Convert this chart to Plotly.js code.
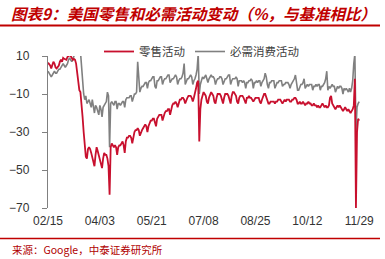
<!DOCTYPE html>
<html>
<head>
<meta charset="utf-8">
<script src="https://cdn.plot.ly/plotly-3.0.1.min.js"></script>
<style>
html,body{margin:0;padding:0;background:#fff;}
#chart{width:385px;height:259px;}
</style>
</head>
<body>
<div id="chart"></div>
<script>
// ---- data ----
var startDate = '2020-02-15';
var seriesNames = ['零售活动', '必需消费活动'];
var retail = [
  6.5, 6, 5, 3.5, 6, 7, 6,
  4, 3.5, 4, 5, 7, 8, 7,
  9, 8.5, 8, 8, 9.5, 10, 10.5,
  10, 9, 8, 8.5, 8, 6, 1,
  -5, -8, -9, -14, -22, -30, -37,
  -43, -44, -39, -38, -39, -41, -43,
  -46, -48, -42, -38, -40, -42, -44,
  -47, -49, -44, -41, -42, -42, -44,
  -48, -63, -38, -36, -37, -38, -37,
  -38, -42, -38, -37, -37, -36, -35,
  -37, -41, -35, -33, -33, -32, -32,
  -33, -36, -32, -30, -29, -29, -28,
  -29, -32, -30, -29, -28, -27, -26,
  -27, -30, -27, -25, -24, -24, -23,
  -23, -26, -27, -23, -22, -21, -21,
  -21, -24, -21, -20, -19, -19, -18,
  -18, -21, -18, -16, -15, -15, -14,
  -15, -17, -15, -13, -13, -12, -12,
  -13, -15, -13, -12, -11, -11, -11,
  -12, -14, -12, -10, -7, -4, -3,
  -35, -18, -13, -10, -9, -10, -11,
  -14, -15, -12, -10, -9, -10, -11,
  -14, -15, -12, -10, -10, -10, -11,
  -14, -15, -12, -10, -10, -10, -11,
  -13, -15, -11, -9, -9, -10, -11,
  -14, -15, -12, -11, -11, -11, -12,
  -14, -15, -12, -12, -11, -12, -12,
  -13, -14, -13, -12, -12, -12, -12,
  -14, -15, -13, -11, -10, -10, -12,
  -14, -15, -15, -14, -14, -14, -14,
  -15, -14, -14, -13, -13, -13, -14,
  -15, -14, -13, -14, -13, -13, -13,
  -14, -14, -13, -13, -12, -12, -13,
  -15, -15, -14, -15, -15, -14, -15,
  -16, -15, -15, -14, -15, -15, -16,
  -16, -15, -16, -16, -17, -16, -17,
  -17, -16, -15, -16, -17, -16, -17,
  -17, -16, -12, -11, -15, -16, -17,
  -18, -17, -16, -17, -16, -17, -18,
  -19, -18, -17, -18, -19, -18, -19,
  -20, -19, -18, -16, -2, -70, -30,
  -23, -24
];
var grocery = [
  2, 1, 0, -1, 0, 1, 2,
  1, 1, 2, 3, 3, 4, 5,
  6, 5, 4, 5, 6, 8, 9,
  8, 7, 8, 10, 12, 17, 24,
  22, 20, 12, 2, -6, -10, -13,
  -11, -15, -14, -13, -15, -17, -13,
  -16, -20, -16, -17, -19, -21, -16,
  -18, -22, -17, -16, -15, -14, -9,
  -11, -38, -15, -14, -15, -16, -14,
  -14, -18, -15, -15, -16, -15, -14,
  -14, -17, -13, -12, -12, -12, -11,
  -11, -14, -11, -10, -10, -9, 7,
  -4, -9, -7, -6, -6, -5, -4,
  -4, -7, -4, -3, -3, -2, -1,
  -1, -6, -7, -3, -3, -2, -1,
  -1, -5, -3, -2, -2, -1, 0,
  0, -4, -3, -2, -2, -1, 0,
  -1, -5, -3, -2, -2, -1, 1,
  6, -5, -3, -2, -2, -1, 0,
  -1, -5, -3, -2, 0, 3, 11,
  -10, -5, -3, -1, -2, -1, 0,
  -2, -4, -2, -1, 0, -1, -1,
  -2, -5, -3, -2, -2, -1, -1,
  -2, -5, -3, -2, -2, -1, 0,
  0, -5, -3, -2, -2, -2, -1,
  -2, -6, -3, -3, -3, -4, -3,
  -4, -7, -4, -4, -3, -3, -2,
  -3, -7, -4, -4, -3, -4, -3,
  -3, -6, -4, -3, -2, 1, -1,
  -5, -7, -4, -4, -3, -3, -3,
  -7, -5, -4, -4, -3, -3, -3,
  -6, -5, -5, -4, -4, -4, -5,
  -7, -5, -4, -3, -2, 0, -3,
  -8, -8, -6, -5, -5, -4, -2,
  -7, -6, -5, -6, -5, -5, -5,
  -8, -6, -6, -5, -6, -5, -5,
  -8, -6, -6, -5, -4, -2, 2,
  -8, -6, -7, -6, -5, -6, -6,
  -9, -7, -6, -7, -6, -6, -7,
  -10, -7, -8, -7, -8, -9, -7,
  -9, -7, -3, 6, 11, -29, -17,
  -15, -14
];
var tickDates = ['2020-02-15', '2020-04-03', '2020-05-21', '2020-07-08', '2020-08-25', '2020-10-12', '2020-11-29'];
var tickLabels = ['02/15', '04/03', '05/21', '07/08', '08/25', '10/12', '11/29'];
var yTicks = [-70, -50, -30, -10, 10];

// build the daily date axis
function buildDates(start, n) {
  var out = [];
  var t0 = Date.parse(start + 'T00:00:00Z');
  for (var i = 0; i < n; i++) {
    var d = new Date(t0 + i * 86400000);
    out.push(d.toISOString().slice(0, 10));
  }
  return out;
}
var dates = buildDates(startDate, retail.length);

var RED = '#C8102E';
var GRAY = '#808080';
var TITLE_RED = '#C00000';
var xRange = ['2020-02-15', '2020-11-29 18:00'];

// plot area px: left 48, right 360, top 56, bottom 208
var L = 48, R = 360, T = 56, B = 208;
function px2x(p) { return (p - L) / (R - L); }
function px2y(p) { return (B - p) / (B - T); }

var traces = [
  { x: dates, y: grocery, name: seriesNames[1], type: 'scatter', mode: 'lines',
    line: { color: GRAY, width: 1.6 } },
  { x: dates, y: retail, name: seriesNames[0], type: 'scatter', mode: 'lines',
    line: { color: RED, width: 1.8 } }
];

var layout = {
  width: 385, height: 259,
  margin: { l: L, r: 385 - R, t: T, b: 259 - B, pad: 0 },
  paper_bgcolor: '#ffffff', plot_bgcolor: '#ffffff',
  showlegend: true,
  legend: {
    orientation: 'h', traceorder: 'reversed',
    x: px2x(99), xanchor: 'left', y: px2y(37), yanchor: 'top',
    font: { family: 'Noto Sans CJK SC', size: 11.5, color: '#404040' },
    bgcolor: 'rgba(0,0,0,0)', itemclick: false, itemdoubleclick: false
  },
  title: {
    text: '图表9：美国零售和必需活动变动（%，与基准相比）',
    font: { family: 'Noto Sans CJK SC', size: 15.5, color: TITLE_RED, weight: 'bold', style: 'italic' },
    xref: 'container', yref: 'container', x: 11 / 385, xanchor: 'left', y: 1 - 15 / 259, yanchor: 'middle'
  },
  xaxis: {
    type: 'date', range: xRange,
    tickmode: 'array', tickvals: tickDates, ticktext: tickLabels,
    showline: false, ticks: '', showgrid: false, zeroline: false,
    tickfont: { family: 'Liberation Sans, Arial', size: 12, color: '#333333' },
    ticklabelstandoff: 4, fixedrange: true
  },
  xaxis2: {
    type: 'date', range: xRange, overlaying: 'x', anchor: 'free', position: 0.875,
    tickmode: 'array', tickvals: tickDates,
    showline: true, linecolor: GRAY, linewidth: 1.5,
    ticks: 'inside', ticklen: 3, tickcolor: GRAY, tickwidth: 1,
    showticklabels: false, showgrid: false, zeroline: false, fixedrange: true
  },
  yaxis: {
    range: [-70, 10], tickmode: 'array', tickvals: yTicks,
    showline: true, linecolor: GRAY, linewidth: 1.2,
    ticks: 'outside', ticklen: 5, tickcolor: GRAY, tickwidth: 1,
    showgrid: false, zeroline: false,
    tickfont: { family: 'Liberation Sans, Arial', size: 12, color: '#333333' },
    ticklabelstandoff: 10, fixedrange: true
  },
  shapes: [
    { type: 'line', xref: 'paper', yref: 'paper', x0: px2x(0), x1: px2x(380), y0: px2y(25.5), y1: px2y(25.5),
      line: { color: TITLE_RED, width: 2 } },
    { type: 'line', xref: 'paper', yref: 'paper', x0: px2x(0), x1: px2x(380), y0: px2y(238.5), y1: px2y(238.5),
      line: { color: TITLE_RED, width: 1.5 } }
  ],
  annotations: [
    { text: '来源：Google，中泰证券研究所', xref: 'paper', yref: 'paper',
      x: px2x(10), xanchor: 'left', y: px2y(249), yanchor: 'middle', showarrow: false,
      font: { family: 'Noto Sans CJK SC', size: 10.5, color: '#B00000' } }
  ]
};

Plotly.newPlot('chart', traces, layout, { displayModeBar: false, staticPlot: true });
</script>
</body>
</html>
